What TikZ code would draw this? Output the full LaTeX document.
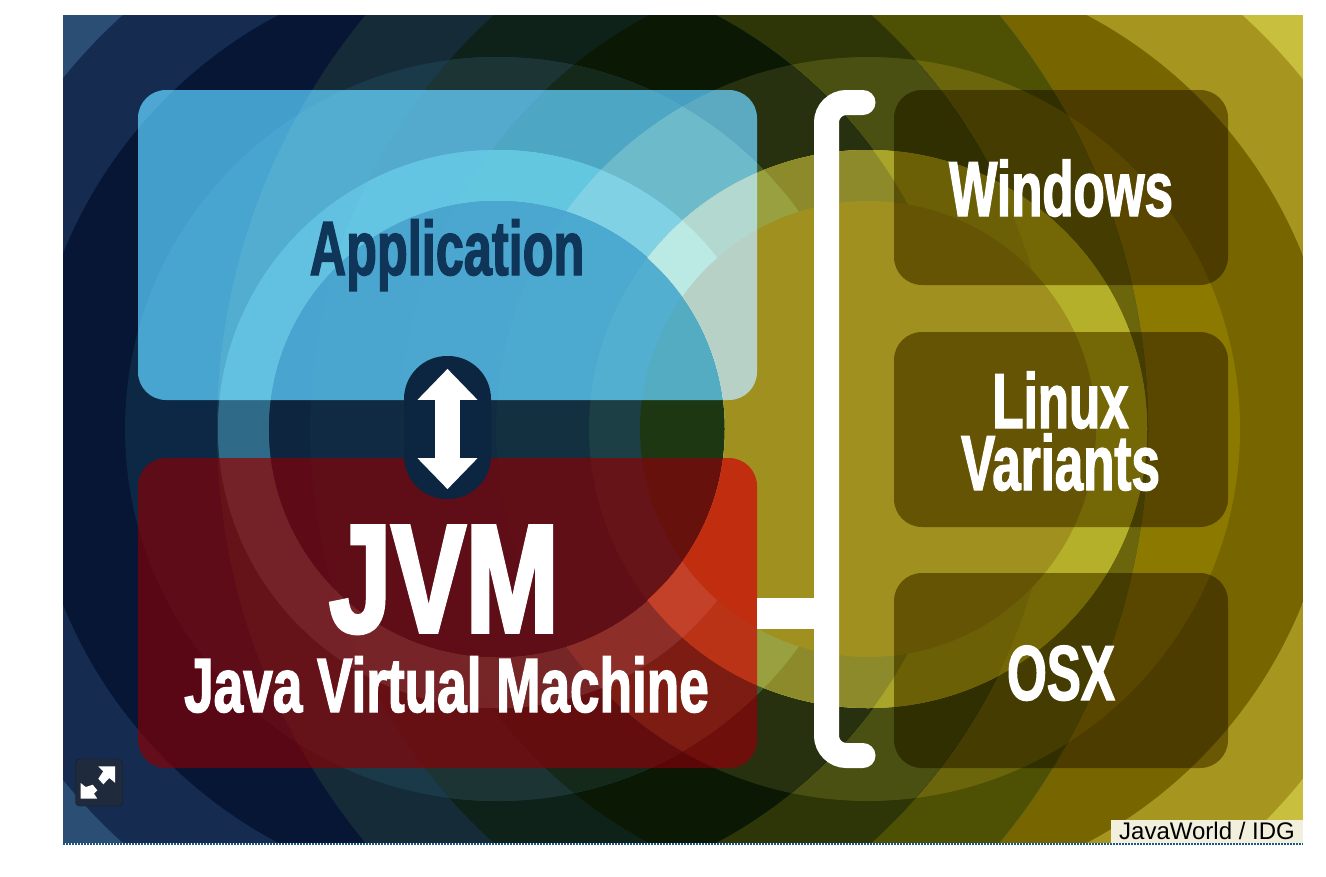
\documentclass[tikz,border=0pt]{standalone}
\usepackage{fontspec}
\usetikzlibrary{arrows.meta,shapes.geometric}
\setmainfont{Liberation Sans}
\newfontfamily\condA[FakeStretch=0.655,FakeBold=1.6]{Liberation Sans Bold}
\newfontfamily\condB[FakeStretch=0.725,FakeBold=2.4]{Liberation Sans Bold}
\newfontfamily\condC[FakeStretch=0.69,FakeBold=1.6]{Liberation Sans Bold}
\def\cc#1#2{\definecolor{c#1}{HTML}{#2}}
% region colours: first digit = left set level, second digit = right set level
\cc{00}{C9BF3F}\cc{01}{C9BF3F}\cc{02}{A6961F}\cc{03}{776600}\cc{04}{8C7A00}\cc{05}{B5B02A}\cc{06}{A09020}
\cc{10}{2B4E74}\cc{11}{2B4E74}\cc{12}{A6961F}\cc{13}{4E5103}\cc{14}{6B660C}\cc{15}{B5B02A}\cc{16}{A09020}
\cc{20}{152C50}\cc{21}{152C50}\cc{22}{4E5103}\cc{23}{2E3506}\cc{24}{4A5012}\cc{25}{A9A42A}\cc{26}{A09020}
\cc{30}{061634}\cc{31}{152C38}\cc{32}{0F221A}\cc{33}{0A1804}\cc{34}{27300F}\cc{35}{8C8A2A}\cc{36}{A09020}
\cc{40}{0C2845}\cc{41}{1A3A4A}\cc{42}{1C3434}\cc{43}{15291A}\cc{44}{3D5A2E}\cc{45}{98A040}\cc{46}{A09020}
\cc{50}{2F6A88}\cc{51}{2F6A88}\cc{52}{32738A}\cc{53}{327884}\cc{54}{569094}\cc{55}{A5CA94}\cc{56}{A09020}
\cc{60}{0E2540}\cc{61}{0E2540}\cc{62}{0F2A42}\cc{63}{102B42}\cc{64}{12303F}\cc{65}{1B3F44}\cc{66}{1C3712}
\definecolor{appscreen}{RGB}{62,148,190}
\definecolor{jvmmult}{RGB}{255,82,60}
\definecolor{jvmscreen}{RGB}{84,0,8}
\definecolor{osmult}{RGB}{163,150,40}
\definecolor{pillnavy}{HTML}{0C2540}
\definecolor{apptext}{HTML}{0F3558}
\definecolor{iconfill}{HTML}{1F2B3C}
\definecolor{iconline}{HTML}{111A28}
\definecolor{cream}{HTML}{F2EFDC}
\definecolor{dotblue}{HTML}{1A5A8A}
\tikzset{
  box/.style={rectangle,rounded corners=28pt,inner sep=0pt,outer sep=0pt},
  appbox/.style={box,minimum width=619pt,minimum height=310pt,fill=appscreen,blend mode=screen},
  jvmbox/.style={box,minimum width=619pt,minimum height=310pt},
  osbox/.style={box,minimum width=334pt,minimum height=195pt,fill=osmult,blend mode=multiply},
  label/.style={anchor=base,inner sep=0pt,text=white,align=center},
  whitebar/.style={draw=white,line width=25pt},
}
\begin{document}
\begin{tikzpicture}[x=1pt,y=-1pt]
\useasboundingbox (0,0) rectangle (1326,876);
\begin{scope}
\clip (63,15) rectangle (1303,843);
\foreach \l/\a in {0/2000,1/651,2/558,3/468,4/372,5/279,6/228}{
  \foreach \r/\b in {0/2000,1/651,2/558,3/468,4/372,5/279,6/228}{
    \begin{scope}
      \clip (497,429) circle[radius=\a];
      \clip (868,429) circle[radius=\b];
      \fill[c\l\r] (63,15) rectangle (1303,843);
    \end{scope}
  }
}
% second pass for the bright inner rings on the right, outside the left core
\begin{scope}[even odd rule]
  \clip (63,15) rectangle (1303,843) (497,429) circle[radius=228];
  \foreach \l/\a in {0/2000,1/651,2/558,3/468,4/372,5/279}{
    \begin{scope}
      \clip (497,429) circle[radius=\a];
      \clip (868,429) circle[radius=279];
      \fill[c\l5] (63,15) rectangle (1303,843);
    \end{scope}
  }
  \fill[c46] (868,429) circle[radius=228];
\end{scope}
\end{scope}
% boxes
\node[appbox] (app) at (447.5,245) {};
\node[jvmbox,fill=jvmmult,blend mode=multiply] (jvmA) at (447.5,613) {};
\node[jvmbox,fill=jvmscreen,blend mode=screen] (jvm) at (447.5,613) {};
\node[osbox] (win) at (1061,187.5) {};
\node[osbox] (lin) at (1061,429.5) {};
\node[osbox] (osx) at (1061,670.5) {};
% pill and arrow
\node[rectangle,rounded corners=43pt,minimum width=87pt,minimum height=143pt,inner sep=0pt,fill=pillnavy] (pill) at (447.5,427.5) {};
\coordinate (arrtop) at ([yshift=-13pt]pill.north);
\coordinate (arrbot) at ([yshift=10pt]pill.south);
\draw[white,line width=25pt,{Triangle[length=31pt,width=58pt]}-{Triangle[length=31pt,width=58pt]}] (arrtop) -- (arrbot);
% bracket
\coordinate (bt) at (863,102.5);
\coordinate (bb) at (863,755.5);
\draw[whitebar,line cap=round,rounded corners=20pt] (bt) -- (826.5,102.5) -- (826.5,755.5) -- (bb);
\coordinate (tee) at (826.5,613);
\draw[draw=white,line width=31pt] (jvm.east |- tee) -- (tee);
% labels
\node[label,text=apptext,font=\condA\fontsize{77}{77}\selectfont] (lapp) at (447,275) {Application};
\node[label,font=\condB\fontsize{154}{154}\selectfont] (ljvm) at (444,632) {JVM};
\node[label,font=\condC\fontsize{77}{77}\selectfont] (ljava) at (446.5,712) {Java Virtual Machine};
\node[label,font=\condA\fontsize{78}{78}\selectfont] (lwin) at (1061,216) {Windows};
\node[label,font=\condA\fontsize{78}{62}\selectfont] (llin) at (1060.5,490) {Linux\\Variants};
\node[label,font=\condA\fontsize{78}{78}\selectfont] (losx) at (1061,700) {OSX};
% expand icon
\node[rectangle,rounded corners=4pt,minimum width=47pt,minimum height=47pt,inner sep=0pt,fill=iconfill,draw=iconline] (icon) at (99,782.5) {};
\fill[white] (115,766.3) -- (115,782.7) -- (109.3,778) -- (103.3,784.3) -- (98.3,778.7) -- (103.3,771.3) -- (98.3,766.3) -- cycle;
\fill[white] (80.7,798.7) -- (80.7,783) -- (85.7,787) -- (92.7,784.7) -- (97.3,790.3) -- (94,793.7) -- (97.3,798.7) -- cycle;
% credit
\node[rectangle,fill=cream,minimum width=192pt,minimum height=23pt,inner sep=0pt] (credit) at (1207,831.5) {};
\node[anchor=base,inner sep=0pt,text=black] (lcredit) at (1207,839) {\fontsize{24}{24}\selectfont JavaWorld / IDG};
\draw[color=dotblue,line width=2pt,dash pattern=on 1.5pt off 1.5pt] (63,844) -- (1303,844);
\end{tikzpicture}
\end{document}
